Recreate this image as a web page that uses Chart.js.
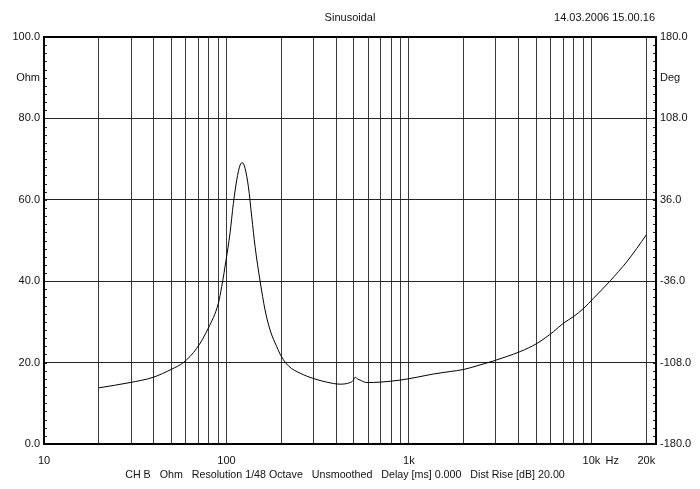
<!DOCTYPE html>
<html>
<head>
<meta charset="utf-8">
<title>Sinusoidal impedance</title>
<script src="https://cdn.jsdelivr.net/npm/chart.js@4.4.1/dist/chart.umd.min.js"></script>
<style>
  html, body { margin: 0; padding: 0; background: #fff; }
  #wrap { width: 700px; height: 489px; position: relative; }
</style>
</head>
<body>
<div id="wrap"><canvas id="chart"></canvas></div>
<script>
// impedance curve (Hz / Ohm)
const freqHz = [
  20, 29.6, 39.7, 50.1, 58, 68.7, 79.6, 90.3, 94.2, 99.5, 104.6, 109.1, 113.9,
  118.7, 122.3, 126.5, 131.9, 137.6, 143.5, 152.9, 162.8, 173.4, 188.7, 200,
  218.5, 253.3, 299.5, 354.6, 419.6, 476, 495, 507, 522, 540, 587.6, 695.3,
  894.6, 1105, 1362, 1682, 1990, 2356, 2906, 3441, 4070, 5026, 6197, 7031,
  7979, 9054, 10270, 12680, 15650, 17760, 20000
];
const impedanceOhm = [
  13.8, 15.1, 16.4, 18.4, 20.0, 23.5, 28.5, 34.6, 38.7, 45.2, 51.8, 59.1, 64.9,
  68.5, 69.1, 67.7, 63.2, 55.8, 48.5, 40.0, 32.9, 28.0, 23.9, 21.5,
  19.2, 17.4, 16.1, 15.2, 14.7, 15.1, 15.6, 16.4, 16.0, 15.7, 15.1, 15.2,
  15.7, 16.4, 17.2, 17.8, 18.3, 19.2, 20.4, 21.5, 22.7, 24.7, 27.6, 29.7,
  31.3, 33.3, 35.8, 40.1, 44.8, 48.1, 51.4
];

// axis ticks
const freqGrid = [10, 20, 30, 40, 50, 60, 70, 80, 90, 100, 200, 300, 400, 500, 600, 700, 800, 900,
  1000, 2000, 3000, 4000, 5000, 6000, 7000, 8000, 9000, 10000, 13000, 20000];
const freqLabels = { 10: '10', 100: '100', 1000: '1k', 10000: '10k', 13000: 'Hz', 20000: '20k' };
const ohmTicks = [0, 20, 40, 60, 80, 90, 100];
const degTicks = [-180, -108, -36, 36, 108, 144, 180];

const FONT = { family: 'Liberation Sans, Arial, sans-serif', size: 11 };
const TEXT = '#111';

const framePlugin = {
  id: 'frame',
  afterDraw(chart) {
    const { ctx, chartArea: a } = chart;
    const y = chart.scales.y;
    ctx.save();
    // inward minor ticks on both vertical borders
    ctx.strokeStyle = '#222';
    ctx.lineWidth = 1;
    for (let v = 2; v < 100; v += 2) {
      const py = Math.round(y.getPixelForValue(v)) + 0.5;
      ctx.beginPath();
      ctx.moveTo(a.left, py); ctx.lineTo(a.left + 3, py);
      ctx.moveTo(a.right - 3, py); ctx.lineTo(a.right, py);
      ctx.stroke();
    }
    ctx.strokeStyle = '#000';
    ctx.lineWidth = 2;
    ctx.strokeRect(a.left, a.top, a.right - a.left, a.bottom - a.top);

    ctx.fillStyle = TEXT;
    ctx.font = FONT.size + 'px ' + FONT.family;
    ctx.textBaseline = 'middle';
    ctx.textAlign = 'center';
    ctx.fillText('Sinusoidal', 350, 18);
    ctx.textAlign = 'right';
    ctx.fillText('14.03.2006 15.00.16', 655, 18);
    ctx.textAlign = 'center';
    ctx.font = '10.7px ' + FONT.family;
    ctx.fillText('CH B   Ohm   Resolution 1/48 Octave   Unsmoothed   Delay [ms] 0.000   Dist Rise [dB] 20.00', 345, 475);
    ctx.restore();
  }
};

const ctx = document.getElementById('chart').getContext('2d');
const chart = new Chart(ctx, {
  type: 'line',
  data: {
    datasets: [{
      data: freqHz.map((f, i) => ({ x: f, y: impedanceOhm[i] })),
      borderColor: '#000',
      borderWidth: 1,
      pointRadius: 0,
      cubicInterpolationMode: 'monotone',
      fill: false
    }]
  },
  options: {
    responsive: true,
    maintainAspectRatio: false,
    animation: false,
    devicePixelRatio: 1,
    layout: { padding: { top: 37, left: 0, right: 0, bottom: 0 } },
    plugins: { legend: { display: false }, tooltip: { enabled: false } },
    scales: {
      x: {
        type: 'logarithmic',
        min: 10,
        max: 22600,
        afterBuildTicks: (s) => { s.ticks = freqGrid.map(v => ({ value: v })); },
        afterFit: (s) => { s.height = 45; },
        border: { display: false },
        grid: {
          drawTicks: false,
          color: (c) => (c.tick && (c.tick.value === 10 || c.tick.value === 13000)) ? 'rgba(0,0,0,0)' : '#3a3a3a',
          lineWidth: 1
        },
        ticks: {
          autoSkip: false,
          maxRotation: 0,
          padding: 10,
          color: TEXT,
          font: FONT,
          callback: (v) => freqLabels[v] || ''
        }
      },
      y: {
        position: 'left',
        min: 0,
        max: 100,
        afterBuildTicks: (s) => { s.ticks = ohmTicks.map(v => ({ value: v })); },
        afterFit: (s) => { s.width = 44; },
        border: { display: false },
        grid: {
          drawTicks: false,
          color: (c) => (c.tick && [0, 90, 100].includes(c.tick.value)) ? 'rgba(0,0,0,0)' : '#222',
          lineWidth: 1
        },
        ticks: {
          padding: 4,
          color: TEXT,
          font: FONT,
          callback: (v) => v === 90 ? 'Ohm' : v.toFixed(1)
        }
      },
      deg: {
        position: 'right',
        min: -180,
        max: 180,
        afterBuildTicks: (s) => { s.ticks = degTicks.map(v => ({ value: v })); },
        afterFit: (s) => { s.width = 44; },
        border: { display: false },
        grid: { drawOnChartArea: false, drawTicks: false },
        ticks: {
          padding: 4,
          color: TEXT,
          font: FONT,
          callback: (v) => v === 144 ? 'Deg' : v.toFixed(1)
        }
      }
    }
  },
  plugins: [framePlugin]
});
</script>
</body>
</html>
